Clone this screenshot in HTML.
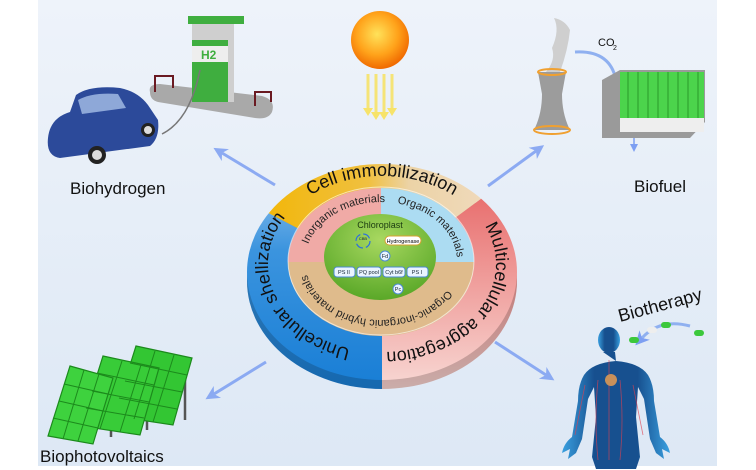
<!DOCTYPE html>
<html><head><meta charset="utf-8"><style>
html,body{margin:0;padding:0;background:#fff}
svg{display:block}
text{font-family:"Liberation Sans",sans-serif}
</style></head><body>
<svg width="756" height="470" viewBox="0 0 756 470" xmlns="http://www.w3.org/2000/svg">
<defs>
<linearGradient id="bg" x1="0" y1="0" x2="0" y2="1"><stop offset="0" stop-color="#eef3fa"/><stop offset="1" stop-color="#dde8f5"/></linearGradient>
<radialGradient id="sun" cx="0.45" cy="0.4" r="0.6"><stop offset="0" stop-color="#ffe25a"/><stop offset="0.6" stop-color="#ffa21a"/><stop offset="1" stop-color="#f06a00"/></radialGradient>
<linearGradient id="gTop" x1="0" y1="0" x2="1" y2="0"><stop offset="0" stop-color="#f2b500"/><stop offset="0.45" stop-color="#f0c040"/><stop offset="0.6" stop-color="#ecd3a6"/><stop offset="1" stop-color="#f1dcc4"/></linearGradient>
<linearGradient id="gRight" x1="0" y1="0" x2="0" y2="1"><stop offset="0" stop-color="#e65e5e"/><stop offset="1" stop-color="#f7d3cf"/></linearGradient>
<linearGradient id="gLeft" x1="0" y1="0" x2="0" y2="1"><stop offset="0" stop-color="#9cc7ee"/><stop offset="0.4" stop-color="#3b94de"/><stop offset="1" stop-color="#1a7fd6"/></linearGradient>
<radialGradient id="gGreen" cx="0.5" cy="0.3" r="0.7"><stop offset="0" stop-color="#a8d860"/><stop offset="1" stop-color="#5aa828"/></radialGradient>
<linearGradient id="gBody" x1="0" y1="0" x2="1" y2="0"><stop offset="0" stop-color="#3aa0e0"/><stop offset="0.3" stop-color="#17508f"/><stop offset="0.7" stop-color="#17508f"/><stop offset="1" stop-color="#3aa0e0"/></linearGradient>
<clipPath id="cTop"><polygon points="382,272 82,116 82,0 700,0 690,44"/></clipPath>
<clipPath id="cRight"><polygon points="382,272 690,44 756,44 756,470 382,470"/></clipPath>
<clipPath id="cLeft"><polygon points="382,272 382,470 0,470 0,116 82,116"/></clipPath>
<path id="pA" d="M382,352 A114,88 0 1 1 382,176 A114,88 0 1 1 382,352"/>
<path id="pB" d="M382,176 A114,88 0 1 1 382,352 A114,88 0 1 1 382,176"/>
<path id="iA" d="M381,320 A76,59 0 1 1 381,202 A76,59 0 1 1 381,320"/>
<path id="iB" d="M381,202 A76,59 0 1 1 381,320 A76,59 0 1 1 381,202"/>
<marker id="ah" markerUnits="userSpaceOnUse" markerWidth="14" markerHeight="14" refX="4" refY="7" orient="auto"><path d="M0,0 L14,7 L0,14 L4,7 z" fill="#7d9ff2"/></marker>
<marker id="ahs" markerUnits="userSpaceOnUse" markerWidth="8" markerHeight="8" refX="2" refY="4" orient="auto"><path d="M0,0 L8,4 L0,8 z" fill="#7d9ff2"/></marker>
</defs>
<rect width="756" height="470" fill="#fff"/>
<rect x="38" y="0" width="679" height="466" fill="url(#bg)"/>

<!-- sun -->
<circle cx="380" cy="40" r="29" fill="url(#sun)"/>
<g stroke="#f7e36a" stroke-width="3" opacity="0.9">
<line x1="368" y1="74" x2="368" y2="110"/><line x1="376" y1="74" x2="376" y2="114"/><line x1="384" y1="74" x2="384" y2="114"/><line x1="392" y1="74" x2="392" y2="110"/>
</g>
<g fill="#f7e36a"><path d="M363,108 l5,8 l5,-8z"/><path d="M371,112 l5,8 l5,-8z"/><path d="M379,112 l5,8 l5,-8z"/><path d="M387,108 l5,8 l5,-8z"/></g>

<!-- arrows -->
<g stroke="#7d9ff2" stroke-width="3" fill="none" marker-end="url(#ah)" opacity="0.85">
<line x1="275" y1="185" x2="222" y2="153"/>
<line x1="488" y1="186" x2="536" y2="151"/>
<line x1="266" y1="362" x2="214" y2="394"/>
<line x1="495" y1="342" x2="546" y2="375"/>
</g>
<line x1="634" y1="126" x2="634" y2="146" stroke="#7d9ff2" stroke-width="1.5" marker-end="url(#ahs)"/>

<!-- wheel side -->
<g transform="translate(0,9)">
<ellipse cx="382" cy="272" rx="135" ry="108" fill="url(#gLeft)" clip-path="url(#cLeft)"/>
<ellipse cx="382" cy="272" rx="135" ry="108" fill="url(#gRight)" clip-path="url(#cRight)"/>
<ellipse cx="382" cy="272" rx="135" ry="108" fill="url(#gTop)" clip-path="url(#cTop)"/>
<ellipse cx="382" cy="272" rx="135" ry="108" fill="#000" opacity="0.18"/>
</g>
<ellipse cx="382" cy="272" rx="135" ry="108" fill="url(#gLeft)" clip-path="url(#cLeft)"/>
<ellipse cx="382" cy="272" rx="135" ry="108" fill="url(#gRight)" clip-path="url(#cRight)"/>
<ellipse cx="382" cy="272" rx="135" ry="108" fill="url(#gTop)" clip-path="url(#cTop)"/>
<!-- inner ring -->
<path d="M288,262 A93,74 0 0 1 381,188 L381,262 z" fill="#f0aaa6"/>
<path d="M381,188 A93,74 0 0 1 474,262 L381,262 z" fill="#acdcf2"/>
<path d="M474,262 A93,74 0 0 1 288,262 z" fill="#dfbb8c"/>
<ellipse cx="381" cy="261" rx="93" ry="74" fill="none" stroke="#fff" stroke-width="1" opacity="0.6"/>
<ellipse cx="380" cy="257" rx="56" ry="43" fill="url(#gGreen)"/>

<g font-size="18" fill="#111">
<text><textPath href="#pA" startOffset="50%" text-anchor="middle">Cell immobilization</textPath></text>
<text><textPath href="#pA" startOffset="19%" text-anchor="middle">Unicellular shellization</textPath></text>
<text><textPath href="#pB" startOffset="34%" text-anchor="middle">Multicellular aggregation</textPath></text>
</g>
<g font-size="11" fill="#222">
<text><textPath href="#iA" startOffset="40%" text-anchor="middle">Inorganic materials</textPath></text>
<text><textPath href="#iA" startOffset="64%" text-anchor="middle">Organic materials</textPath></text>
<text><textPath href="#iB" startOffset="52%" text-anchor="middle">Organic-inorganic hybrid materials</textPath></text>
</g>
<!-- chloroplast -->
<text x="380" y="228" font-size="9" text-anchor="middle" fill="#1a3a10">Chloroplast</text>
<circle cx="363" cy="241" r="7" fill="none" stroke="#2a6ee0" stroke-width="1.2" stroke-dasharray="8 3"/>
<text x="363" y="240" font-size="4" text-anchor="middle" fill="#123">CBB</text>
<rect x="385" y="236" width="36" height="9" rx="4.5" fill="#fff" stroke="#d8a030"/>
<text x="403" y="243" font-size="5.5" text-anchor="middle">Hydrogenase</text>
<g fill="#eaf4ff" stroke="#4a8ad0" stroke-width="1">
<circle cx="385" cy="256" r="5"/><circle cx="398" cy="289" r="5"/>
<rect x="334" y="267" width="21" height="10" rx="3"/><rect x="357" y="267" width="24" height="10" rx="3"/>
<rect x="383" y="267" width="22" height="10" rx="3"/><rect x="407" y="267" width="21" height="10" rx="3"/>
</g>
<g font-size="5.5" text-anchor="middle" fill="#123">
<text x="385" y="258">Fd</text><text x="398" y="291">Pc</text>
<text x="344" y="274">PS II</text><text x="369" y="274">PQ pool</text><text x="394" y="274">Cyt b6f</text><text x="417" y="274">PS I</text>
</g>

<!-- labels -->
<g font-size="17" fill="#111">
<text x="70" y="194">Biohydrogen</text>
<text x="634" y="192">Biofuel</text>
<text x="40" y="462">Biophotovoltaics</text>
<text x="620" y="322" font-size="18" transform="rotate(-15 620 322)">Biotherapy</text>
<text x="598" y="46" font-size="11">CO</text><text x="613" y="50" font-size="7">2</text>
</g>

<!-- pump -->
<path d="M150,92 Q148,84 160,84 L262,96 Q276,100 272,112 Q268,120 255,118 L158,102 Q150,100 150,92z" fill="#a9a9a9"/>
<rect x="192" y="22" width="42" height="80" fill="#cfcfcf"/>
<rect x="192" y="40" width="36" height="62" fill="#3fae3f"/>
<rect x="192" y="46" width="36" height="16" fill="#eee"/>
<text x="201" y="59" font-size="12" fill="#3fae3f" font-weight="bold">H2</text>
<rect x="188" y="16" width="56" height="8" fill="#3fae3f"/>
<path d="M155,92 v-16 h18 v12 M255,106 v-14 h16 v10" stroke="#6a1a22" stroke-width="2" fill="none"/>
<path d="M200,70 Q190,120 162,134" stroke="#777" stroke-width="1.5" fill="none"/>
<!-- car -->
<path d="M48,138 Q50,118 70,112 L76,95 Q90,85 120,88 Q140,92 150,108 L158,120 Q160,138 150,146 L60,158 Q46,156 48,138z" fill="#2c4a9a"/>
<path d="M78,100 Q92,92 118,94 L126,108 L82,114z" fill="#8ea8d8"/>
<circle cx="97" cy="155" r="9" fill="#222"/><circle cx="97" cy="155" r="5" fill="#ddd"/>
<circle cx="148" cy="130" r="7" fill="#222"/><circle cx="148" cy="130" r="4" fill="#ddd"/>

<!-- tower -->
<path d="M546,72 Q556,60 552,48 Q560,30 554,18 Q565,20 570,30 Q568,50 560,72z" fill="#cfcfcf"/>
<path d="M538,72 h28 l-4,22 q0,20 8,36 h-36 q8,-16 8,-36z" fill="#9c9c9c"/>
<ellipse cx="552" cy="72" rx="14" ry="3" fill="none" stroke="#f0a030" stroke-width="2"/>
<ellipse cx="552" cy="130" rx="18" ry="4" fill="none" stroke="#f0a030" stroke-width="2"/>
<path d="M575,52 Q610,50 616,80" stroke="#8fb0f0" stroke-width="3" fill="none" marker-end="url(#ah)"/>
<!-- bioreactor -->
<path d="M602,80 L620,70 L705,70 L705,122 L690,138 L602,138z" fill="#9a9a9a"/>
<rect x="620" y="72" width="84" height="46" fill="#4cd44c"/>
<g stroke="#2a9a2a" stroke-width="1"><line x1="628" y1="72" x2="628" y2="118"/><line x1="638" y1="72" x2="638" y2="118"/><line x1="648" y1="72" x2="648" y2="118"/><line x1="658" y1="72" x2="658" y2="118"/><line x1="668" y1="72" x2="668" y2="118"/><line x1="678" y1="72" x2="678" y2="118"/><line x1="688" y1="72" x2="688" y2="118"/><line x1="698" y1="72" x2="698" y2="118"/></g>
<rect x="620" y="118" width="84" height="14" fill="#eee"/>

<!-- solar panels -->
<g stroke="#555" stroke-width="2.5">
<line x1="111" y1="378" x2="111" y2="437"/><line x1="147" y1="368" x2="147" y2="430"/><line x1="185" y1="358" x2="185" y2="420"/>
</g>
<g id="panel" fill="#3ed23e" stroke="#1c8a1c" stroke-width="1.2">
<path d="M136,346 L192,358 L173,425 L114,416z" fill="#33c633"/>
</g>
<g fill="#3ed23e" stroke="#1c8a1c" stroke-width="1.2">
<path d="M103,356 L159,368 L140,435 L81,426z" fill="#38cc38"/>
<path d="M70,366 L113,378 L93,444 L48,436z"/>
</g>
<g stroke="#1c8a1c" stroke-width="1">
<path d="M64,384 L108,394 M59,401 L103,411 M53,418 L98,428 M84,370 L63,439 M99,374 L78,441"/>
<path d="M97,373 L154,385 M92,391 L149,402 M86,408 L144,418 M122,361 L100,429 M141,365 L120,432"/>
<path d="M130,363 L187,375 M125,381 L182,392 M119,398 L177,409 M155,351 L134,419 M174,355 L153,422"/>
</g>

<!-- human -->
<g fill="url(#gBody)">
<ellipse cx="609" cy="340" rx="11" ry="13"/>
<path d="M603,352 h12 l1,9 q24,2 32,14 q6,10 6,26 l6,36 q8,6 10,16 l-8,-4 l2,10 l-8,-6 l-6,-14 l-6,-40 l-6,-12 l-2,30 l4,40 l-4,12 h-40 l-4,-12 l4,-40 l-2,-30 l-6,12 l-6,40 l-6,14 l-8,6 l2,-10 l-8,4 q2,-10 10,-16 l6,-36 q0,-16 6,-26 q8,-12 32,-14z"/>
</g>
<path d="M609,360 v100 M598,380 q-4,40 0,80 M620,380 q4,40 0,80 M585,385 l-10,50 M633,385 l10,50" stroke="#e04050" stroke-width="0.8" fill="none" opacity="0.7"/>
<circle cx="611" cy="380" r="6" fill="#c8905a"/>
<path d="M690,326 Q660,318 642,338" stroke="#8fb0f0" stroke-width="3" fill="none" marker-end="url(#ah)"/>
<g><rect x="629" y="337" width="10" height="6" rx="3" fill="#3cc83c"/><rect x="647" y="327" width="10" height="6" rx="3" fill="#eee"/><rect x="661" y="322" width="10" height="6" rx="3" fill="#3cc83c"/><rect x="694" y="330" width="10" height="6" rx="3" fill="#3cc83c"/></g>
</svg>
</body></html>
